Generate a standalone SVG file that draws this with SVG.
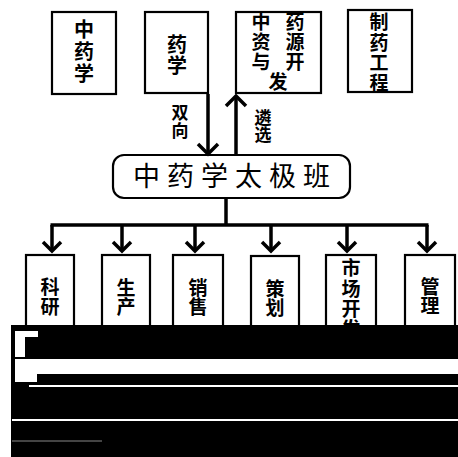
<svg xmlns="http://www.w3.org/2000/svg" width="458" height="457" viewBox="0 0 458 457">
<defs>
<style>
.box{fill:#fff;stroke:#000;stroke-width:2.2}
.t{font-family:"Noto Sans CJK SC","Noto Sans CJK JP",sans-serif;font-size:20px;text-anchor:middle;fill:#000;font-weight:bold}
.s{font-size:19px}
.big{font-size:27px;letter-spacing:7px;font-weight:normal}
.ln{fill:none;stroke:#000;stroke-width:3.5}
.hd{fill:none;stroke:#000;stroke-width:3.5;stroke-linejoin:miter}
</style>
</defs>
<rect width="458" height="457" fill="#fff"/>
<g id="n-zhongyaoxue"><rect class="box" x="52" y="12" width="64" height="82"/>
<text class="t" x="84" y="37">中</text><text class="t" x="84" y="59">药</text><text class="t" x="84" y="81">学</text></g>
<g id="n-yaoxue"><rect class="box" x="145" y="12" width="63" height="81"/>
<text class="t" x="177" y="52">药</text><text class="t" x="177" y="73">学</text></g>
<g id="n-ziyuan"><rect class="box" x="236" y="12" width="85" height="81"/>
<text class="t s" x="261" y="29">中</text><text class="t s" x="295" y="29">药</text>
<text class="t s" x="261" y="49">资</text><text class="t s" x="295" y="49">源</text>
<text class="t s" x="261" y="69">与</text><text class="t s" x="295" y="69">开</text>
<text class="t s" x="278" y="89">发</text></g>
<g id="n-zhiyao"><rect class="box" x="348" y="10" width="64" height="82"/>
<text class="t s" x="379" y="29">制</text><text class="t s" x="379" y="50">药</text><text class="t s" x="379" y="70">工</text><text class="t s" x="379" y="90">程</text></g>
<g id="n-taiji"><rect class="box" x="113" y="155" width="237" height="43" rx="11"/>
<text class="t big" x="235" y="186">中药学太极班</text></g>
<g id="n-keyan"><rect class="box" x="26" y="255" width="48" height="80"/>
<text class="t s" x="50" y="294">科</text><text class="t s" x="50" y="314">研</text></g>
<g id="n-shengchan"><rect class="box" x="102" y="255" width="48" height="80"/>
<text class="t s" x="126" y="295">生</text><text class="t s" x="126" y="314">产</text></g>
<g id="n-xiaoshou"><rect class="box" x="173" y="255" width="50" height="80"/>
<text class="t s" x="198" y="295">销</text><text class="t s" x="198" y="314">售</text></g>
<g id="n-cehua"><rect class="box" x="251" y="256" width="48" height="80"/>
<text class="t s" x="275" y="296">策</text><text class="t s" x="275" y="315">划</text></g>
<g id="n-shichang"><rect class="box" x="326" y="255" width="50" height="80"/>
<text class="t s" x="351" y="275">市</text><text class="t s" x="351" y="296">场</text><text class="t s" x="351" y="316">开</text><text class="t s" x="351" y="336">发</text></g>
<g id="n-guanli"><rect class="box" x="405" y="255" width="50" height="80"/>
<text class="t s" x="430" y="294">管</text><text class="t s" x="430" y="313">理</text></g>
<g id="connectors">
<line class="ln" x1="208" y1="94" x2="208" y2="153"/>
<polyline class="hd" points="198,144 208,154 218,144"/>
<line class="ln" x1="236" y1="155" x2="236" y2="96"/>
<polyline class="hd" points="226,106 236,96 246,106"/>
<text class="t" x="180" y="119" style="font-size:17px">双</text><text class="t" x="180" y="137" style="font-size:17px">向</text>
<text class="t" x="263" y="124" style="font-size:17px">遴</text><text class="t" x="263" y="141" style="font-size:17px">选</text>
<line class="ln" x1="226" y1="198" x2="226" y2="225"/>
<line class="ln" x1="50.5" y1="225" x2="428.5" y2="225"/>
<g>
<line class="ln" x1="52" y1="225" x2="52" y2="251"/><polyline class="hd" points="43,242 52,251 61,242"/>
<line class="ln" x1="122" y1="225" x2="122" y2="251"/><polyline class="hd" points="113,242 122,251 131,242"/>
<line class="ln" x1="195" y1="225" x2="195" y2="251"/><polyline class="hd" points="186,242 195,251 204,242"/>
<line class="ln" x1="271" y1="225" x2="271" y2="251"/><polyline class="hd" points="262,242 271,251 280,242"/>
<line class="ln" x1="347" y1="225" x2="347" y2="251"/><polyline class="hd" points="338,242 347,251 356,242"/>
<line class="ln" x1="427" y1="225" x2="427" y2="251"/><polyline class="hd" points="418,242 427,251 436,242"/>
</g>
</g>
<rect x="11" y="325" width="447" height="132" fill="#000"/>
<path d="M15,331h23v6h-13v20h-10z M15,359h443v15h-421v8h-22z M29,385h429v2h-429z M12,419h446v2h-446z" fill="#fff"/>
<path d="M12,441h90" stroke="#888" stroke-width="1"/>
</svg>
